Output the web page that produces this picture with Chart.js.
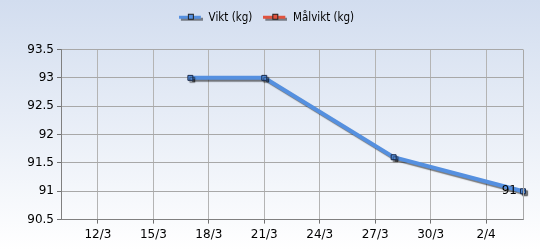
<!DOCTYPE html>
<html>
<head>
<meta charset="utf-8">
<script src="https://cdn.jsdelivr.net/npm/chart.js@4"></script>
<style>
  html, body { margin: 0; padding: 0; background: #fff; }
  #wrap { width: 540px; height: 250px; }
</style>
</head>
<body>
<div id="wrap"><canvas id="chart" width="540" height="250"></canvas></div>
<script>
// data
const dates = ['17/3', '21/3', '28/3', '4/4'];
const weights = [93.0, 93.0, 91.6, 91.0];
const targetDates = [];
const targetWeights = [];
const seriesNames = ['Vikt (kg)', 'Målvikt (kg)'];
const xTickDays = [12, 15, 18, 21, 24, 27, 30, 33];

// day number counted from 1 March (1/4 = 32)
function dayNum(s) {
  const [d, m] = s.split('/').map(Number);
  return m === 4 ? d + 31 : d;
}
function dayLabel(v) {
  return v > 31 ? (v - 31) + '/4' : v + '/3';
}

function legendIcon(color) {
  const c = document.createElement('canvas');
  c.width = 24; c.height = 10;
  const x = c.getContext('2d');
  x.fillStyle = 'rgba(0,0,0,0.45)';
  x.fillRect(2, 5, 22, 3);
  x.fillStyle = color;
  x.fillRect(0, 3, 22, 3);
  x.strokeStyle = '#222';
  x.fillRect(9, 1, 6, 6);
  x.strokeRect(9.5, 1.5, 5, 5);
  return c;
}

const blue = '#5590e0';
const red = '#e0533f';

const bgPlugin = {
  id: 'bg',
  afterInit(chart) {
    // extra space under the legend
    const lg = chart.legend;
    const fit = lg.fit;
    lg.fit = function () { fit.call(this); this.height += 16; };
  },
  beforeDraw(chart) {
    const ctx = chart.ctx;
    const g = ctx.createLinearGradient(0, 0, 0, chart.height);
    g.addColorStop(0, '#d2ddef');
    g.addColorStop(1, '#ffffff');
    ctx.save();
    ctx.fillStyle = g;
    ctx.fillRect(0, 0, chart.width, chart.height);
    ctx.restore();
  },
  afterDraw(chart) {
    const a = chart.chartArea, ctx = chart.ctx;
    ctx.save();
    ctx.strokeStyle = '#a8a8a8';
    ctx.lineWidth = 1;
    ctx.beginPath();
    ctx.moveTo(Math.round(a.right) + 0.5, a.top);
    ctx.lineTo(Math.round(a.right) + 0.5, a.bottom);
    ctx.stroke();
    ctx.restore();
  }
};

const shadowPlugin = {
  id: 'shadow',
  beforeDatasetsDraw(chart) {
    const ctx = chart.ctx;
    ctx.save();
    ctx.shadowColor = 'rgba(0,0,0,0.5)';
    ctx.shadowOffsetX = 2;
    ctx.shadowOffsetY = 2;
    ctx.shadowBlur = 1;
  },
  afterDatasetsDraw(chart) {
    const ctx = chart.ctx;
    ctx.restore();
    // value label on last point
    const meta = chart.getDatasetMeta(0);
    const last = meta.data[meta.data.length - 1];
    ctx.save();
    ctx.font = '12px "DejaVu Sans"';
    ctx.fillStyle = '#000';
    ctx.textAlign = 'right';
    ctx.textBaseline = 'middle';
    ctx.fillText(String(weights[weights.length - 1]), last.x - 6, last.y);
    ctx.restore();
  }
};

new Chart(document.getElementById('chart'), {
  type: 'line',
  data: {
    datasets: [
      {
        label: seriesNames[0],
        data: dates.map((d, i) => ({ x: dayNum(d), y: weights[i] })),
        borderColor: blue,
        backgroundColor: blue,
        borderWidth: 4,
        pointStyle: 'rect',
        pointRadius: 3.5,
        pointBorderColor: '#1a2a4a',
        pointBorderWidth: 1,
        pointBackgroundColor: blue,
        tension: 0,
        clip: false
      },
      {
        label: seriesNames[1],
        data: targetDates.map((d, i) => ({ x: dayNum(d), y: targetWeights[i] })),
        borderColor: red,
        backgroundColor: red,
        borderWidth: 4,
        pointStyle: 'rect'
      }
    ]
  },
  options: {
    responsive: false,
    animation: false,
    layout: { padding: { left: 10, right: 17, top: 1, bottom: 4 } },
    plugins: {
      tooltip: { enabled: false },
      legend: {
        position: 'top',
        labels: {
          usePointStyle: true,
          pointStyleWidth: 24,
          color: '#000',
          font: { family: 'DejaVu Sans Condensed, DejaVu Sans', size: 11.5 },
          padding: 11,
          generateLabels(chart) {
            return chart.data.datasets.map((ds, i) => ({
              text: ds.label,
              pointStyle: legendIcon(ds.borderColor),
              fillStyle: ds.borderColor,
              strokeStyle: ds.borderColor,
              lineWidth: 0,
              hidden: false,
              datasetIndex: i,
              fontColor: '#000'
            }));
          }
        }
      }
    },
    scales: {
      x: {
        type: 'linear',
        min: 10,
        max: 35,
        afterBuildTicks(s) { s.ticks = xTickDays.map(v => ({ value: v })); },
        ticks: {
          color: '#000',
          font: { family: 'DejaVu Sans', size: 12 },
          padding: 4,
          maxRotation: 0,
          callback: v => dayLabel(v)
        },
        grid: { color: '#b4b4b4', tickLength: 4, tickColor: '#707070' },
        border: { color: '#808080' }
      },
      y: {
        min: 90.5,
        max: 93.5,
        afterFit(s) { s.width = 51; },
        ticks: {
          stepSize: 0.5,
          color: '#000',
          font: { family: 'DejaVu Sans', size: 12 },
          padding: 3,
          callback: v => String(Math.round(v * 10) / 10)
        },
        grid: { color: '#a8a8a8', tickLength: 4, tickColor: '#707070' },
        border: { color: '#808080' }
      }
    }
  },
  plugins: [bgPlugin, shadowPlugin]
});
</script>
</body>
</html>
